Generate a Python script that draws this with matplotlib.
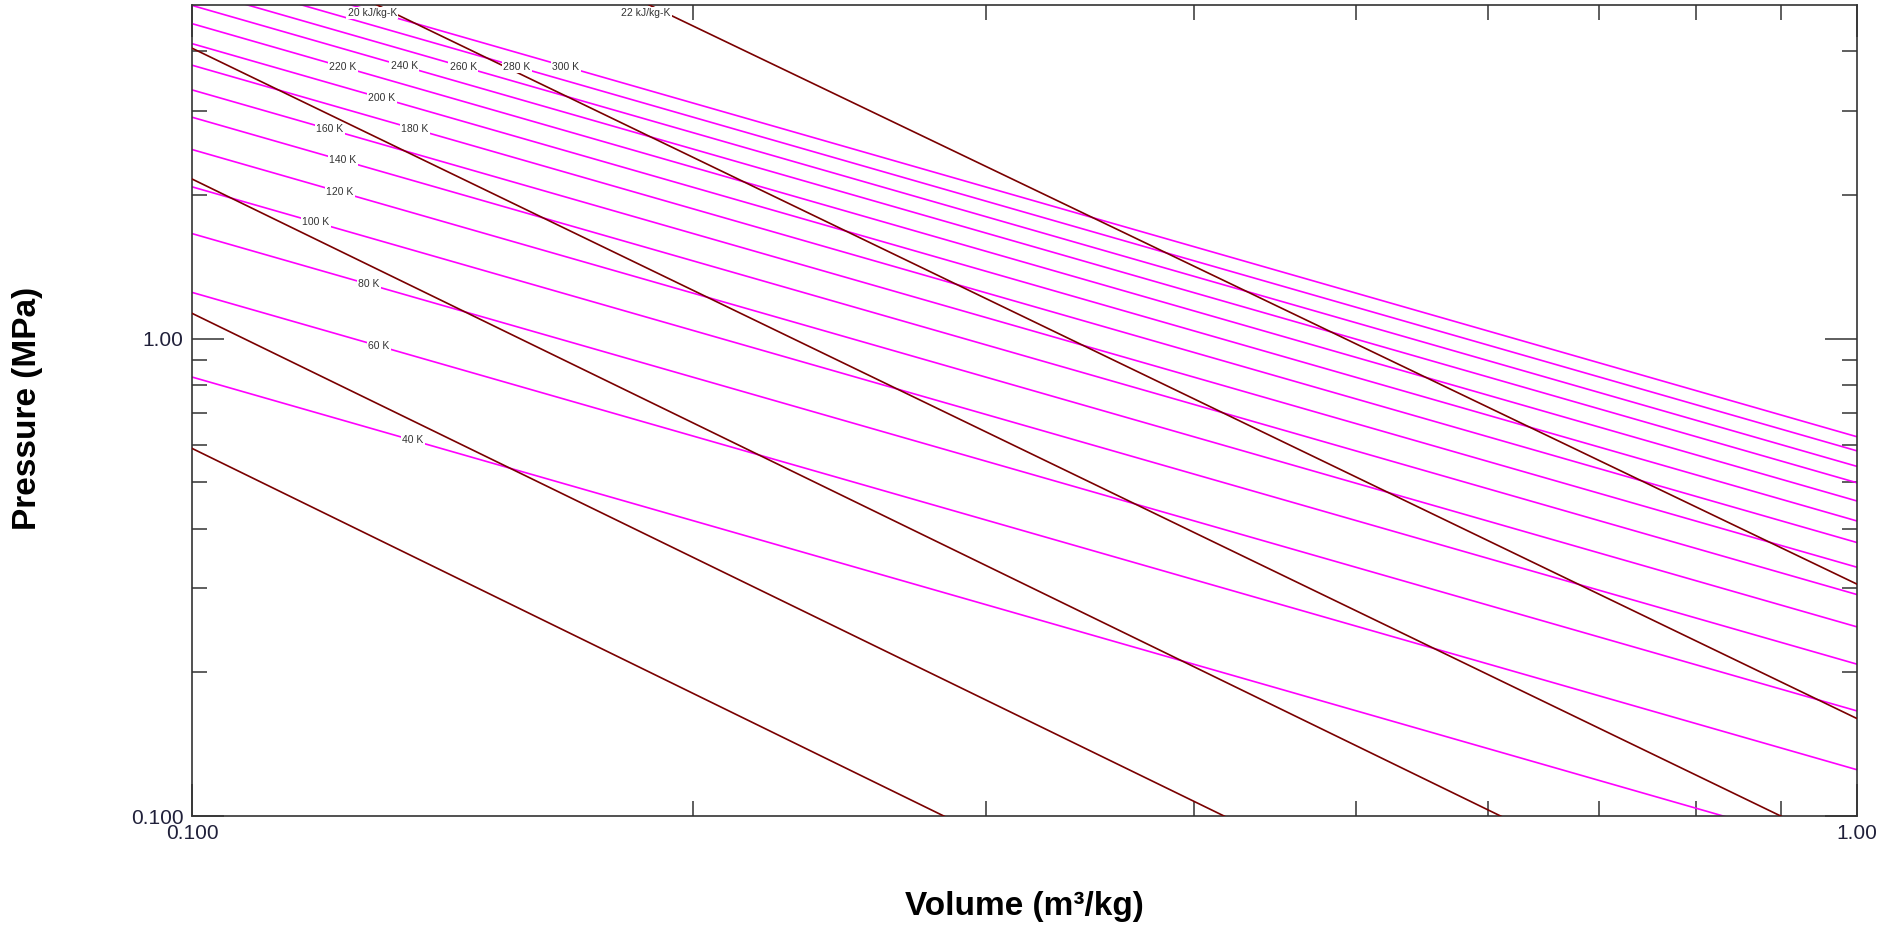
import numpy as np
import matplotlib
import matplotlib.pyplot as plt
from matplotlib.ticker import FixedLocator, NullFormatter

matplotlib.use('agg')
plt.rcParams['font.family'] = ['Liberation Sans', 'DejaVu Sans']

# Constants
BIGFONT = 24
MIDFONT = 15
SMFONT = 7.5
MAGENTA = '#FF00FF'
DARKRED = '#7A0000'
LABCOL = '#333333'

# Isotherms (helium): P at v=0.1 and v=1.0 m3/kg, MPa
iso_T = [40, 60, 80, 100, 120, 140, 160, 180, 200, 220, 240, 260, 280, 300]
iso_p_left = [0.831, 1.25, 1.66, 2.08, 2.49, 2.91, 3.32, 3.74, 4.15, 4.57, 4.99, 5.40, 5.82, 6.23]
iso_p_right = [0.0831, 0.125, 0.166, 0.208, 0.249, 0.291, 0.332, 0.374, 0.415, 0.457, 0.499, 0.540, 0.582, 0.623]
# where the inline labels sit (volume)
iso_lab_v = [0.1357, 0.1295, 0.1277, 0.1187, 0.1227, 0.1232, 0.1210, 0.1361, 0.1300, 0.1232, 0.1341, 0.1455, 0.1567, 0.1677]

# Isentropes: P at v=0.1 and v=1.0, MPa
ise_s = [12, 14, 16, 18, 20, 22]
ise_p_left = [0.589, 1.13, 2.16, 4.06, 7.69, 14.4]
ise_p_right = [0.0116, 0.0226, 0.0433, 0.0837, 0.160, 0.306]
ise_labels = {20: (0.1283, 4.81), 22: (0.1874, 4.81)}

V_EDGE = [0.1, 1.0]

fig = plt.figure(figsize=(18.83, 9.27), dpi=100)
ax = fig.add_axes([192/1883, 1-816/927, (1857-192)/1883, (816-5)/927])

for T, pl, pr in zip(iso_T, iso_p_left, iso_p_right):
    ax.plot(V_EDGE, [pl, pr], color=MAGENTA, linewidth=1.2, zorder=2)

for s, pl, pr in zip(ise_s, ise_p_left, ise_p_right):
    ax.plot(V_EDGE, [pl, pr], color=DARKRED, linewidth=1.2, zorder=3)

ax.set_xscale('log')
ax.set_yscale('log')
ax.set_xlim(0.1, 1.0)
ax.set_ylim(0.1, 5.0)

box = dict(boxstyle='square,pad=0.12', facecolor='white', edgecolor='none')
for T, pl, pr, lv in zip(iso_T, iso_p_left, iso_p_right, iso_lab_v):
    frac = np.log10(lv) + 1.0
    lp = 10 ** (np.log10(pl) + frac * (np.log10(pr) - np.log10(pl)))
    ax.text(lv, lp, f'{T} K', fontsize=SMFONT, color=LABCOL, ha='center', va='center',
            bbox=box, zorder=5)
for s, (lv, lp) in ise_labels.items():
    ax.text(lv, lp, f'{s} kJ/kg-K', fontsize=SMFONT, color=LABCOL, ha='center', va='center',
            bbox=box, zorder=5)

# ticks
ax.xaxis.set_major_locator(FixedLocator([0.1, 1.0]))
ax.yaxis.set_major_locator(FixedLocator([0.1, 1.0]))
ax.xaxis.set_minor_locator(FixedLocator([0.2, 0.3, 0.4, 0.5, 0.6, 0.7, 0.8, 0.9]))
ax.yaxis.set_minor_locator(FixedLocator([0.2, 0.3, 0.4, 0.5, 0.6, 0.7, 0.8, 0.9, 2, 3, 4]))
ax.xaxis.set_minor_formatter(NullFormatter())
ax.yaxis.set_minor_formatter(NullFormatter())
ax.set_xticklabels(['0.100', '1.00'])
ax.set_yticklabels(['0.100', '1.00'])
ax.tick_params(which='both', direction='in', top=True, right=True,
               color='#333333', width=1.1, labelsize=MIDFONT, labelcolor='#20203a')
ax.tick_params(which='major', length=23, pad=6)
ax.tick_params(which='minor', length=11)
for sp in ax.spines.values():
    sp.set_color('#333333')
    sp.set_linewidth(1.2)

fig.text(1024/1883, 1-906/927, 'Volume (m³/kg)', fontsize=BIGFONT, fontweight='bold',
         ha='center', va='center')
fig.text(28/1883, 1-408/927, 'Pressure (MPa)', fontsize=BIGFONT, fontweight='bold',
         ha='center', va='center', rotation=90)

plt.savefig('out.png', dpi=100)
